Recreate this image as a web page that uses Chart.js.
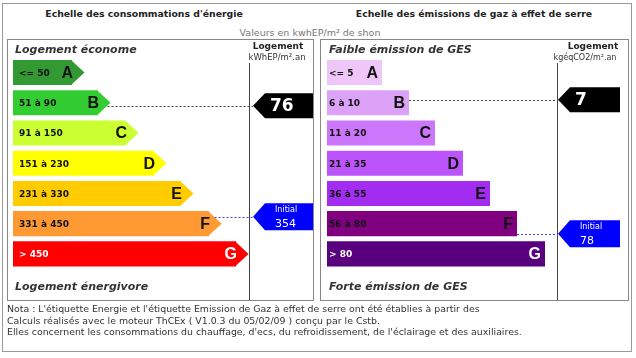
<!DOCTYPE html>
<html>
<head>
<meta charset="utf-8">
<script src="https://cdn.jsdelivr.net/npm/chart.js@4.4.1/dist/chart.umd.min.js"></script>
<style>
  body { margin: 0; background: #fff; width: 636px; height: 358px; overflow: hidden; position: relative; font-family: 'DejaVu Sans', sans-serif; }
  .abs { position: absolute; white-space: nowrap; }
  .centre { width: 300px; text-align: center; }
  .titre { font-weight: bold; font-size: 9.3px; line-height: 12px; color: #222; }
  .entete { font-weight: bold; font-style: italic; font-size: 11px; line-height: 14px; color: #333; }
  .cadre { position: absolute; box-sizing: border-box; border: 1px solid #888; }
  .nota { font-size: 9.4px; line-height: 11.5px; color: #333; left: 7px; }
  canvas { position: absolute; }
</style>
</head>
<body>
<div class="cadre" style="left:2px;top:3px;width:630px;height:349px;border-color:#999"></div>

<div class="abs centre titre" style="left:-6px;top:8px">Echelle des consommations d'énergie</div>
<div class="abs centre titre" style="left:324px;top:8px">Echelle des émissions de gaz à effet de serre</div>
<div class="abs centre" style="left:160px;top:27px;font-size:9.5px;line-height:12px;color:#777">Valeurs en kwhEP/m² de shon</div>

<canvas id="energie" width="306" height="261" style="left:7px;top:39px"></canvas>
<canvas id="ges" width="308" height="261" style="left:320px;top:39px"></canvas>
<div class="cadre" style="left:7px;top:39px;width:307px;height:262px"></div>
<div class="cadre" style="left:320px;top:39px;width:309px;height:262px"></div>

<div class="abs entete" style="left:15px;top:43px">Logement économe</div>
<div class="abs entete" style="left:15px;top:280px">Logement énergivore</div>
<div class="abs entete" style="left:329px;top:43px">Faible émission de GES</div>
<div class="abs entete" style="left:329px;top:280px">Forte émission de GES</div>

<div class="abs centre" style="left:128px;top:41px;font-size:9px;font-weight:bold;line-height:11px;color:#222">Logement</div>
<div class="abs centre" style="left:127px;top:52px;font-size:8.5px;line-height:11px;color:#333">kWhEP/m².an</div>
<div class="abs centre" style="left:443px;top:41px;font-size:9px;font-weight:bold;line-height:11px;color:#222">Logement</div>
<div class="abs centre" style="left:435px;top:52px;font-size:8px;line-height:11px;color:#333">kgéqCO2/m².an</div>

<div class="abs nota" style="top:303px">Nota : L'étiquette Energie et l'étiquette Emission de Gaz à effet de serre ont été établies à partir des</div>
<div class="abs nota" style="top:314.5px">Calculs réalisés avec le moteur ThCEx ( V1.0.3 du 05/02/09 ) conçu par le Cstb.</div>
<div class="abs nota" style="top:326px">Elles concernent les consommations du chauffage, d'ecs, du refroidissement, de l'éclairage et des auxiliaires.</div>

<script>
// Classes et valeurs
var classes = ['A', 'B', 'C', 'D', 'E', 'F', 'G'];

var energiePlages = ['<= 50', '51 à 90', '91 à 150', '151 à 230', '231 à 330', '331 à 450', '> 450'];
var energieSeuils = [50, 90, 150, 230, 330, 450];
var energieBarres = [59, 85, 113, 141, 168, 196, 223];
var energieCouleurs = ['#339933', '#33cc33', '#ccff33', '#ffff00', '#ffcc00', '#ff9933', '#ff0000'];
var energieTextes = ['#111', '#111', '#111', '#111', '#111', '#111', '#fff'];
var energieLogement = 76;
var energieInitial = 354;

var gesPlages = ['<= 5', '6 à 10', '11 à 20', '21 à 35', '36 à 55', '56 à 80', '> 80'];
var gesSeuils = [5, 10, 20, 35, 55, 80];
var gesBarres = [55, 82, 108, 136, 163, 190, 218];
var gesCouleurs = ['#eec6fa', '#dca2f7', '#cc77fb', '#bb55fb', '#a22cf0', '#800080', '#58007e'];
var gesTextes = ['#111', '#111', '#111', '#111', '#111', '#111', '#fff'];
var gesLogement = 7;
var gesInitial = 78;

function classe(v, seuils) {
  for (var i = 0; i < seuils.length; i++) {
    if (v <= seuils[i]) return i;
  }
  return seuils.length;
}

// Fleches, textes des barres et marqueurs
var etiquette = {
  id: 'etiquette',
  afterDatasetsDraw: function (chart, args, opts) {
    var ctx = chart.ctx, area = chart.chartArea;
    var meta = chart.getDatasetMeta(0);
    ctx.save();

    var sx = Math.round(area.right) + 0.5;
    ctx.strokeStyle = '#444';
    ctx.lineWidth = 1;
    ctx.beginPath();
    ctx.moveTo(sx, 24);
    ctx.lineTo(sx, chart.height);
    ctx.stroke();

    meta.data.forEach(function (bar, i) {
      var p = bar.getProps(['x', 'y', 'height'], true);
      var h = p.height;
      if (opts.fleches) {
        ctx.fillStyle = opts.couleurs[i];
        ctx.beginPath();
        ctx.moveTo(p.x - 1, p.y - h / 2);
        ctx.lineTo(p.x + h / 2, p.y);
        ctx.lineTo(p.x - 1, p.y + h / 2);
        ctx.closePath();
        ctx.fill();
      }
      ctx.fillStyle = opts.textes[i];
      ctx.textBaseline = 'middle';
      ctx.textAlign = 'left';
      ctx.font = 'bold 9px "DejaVu Sans"';
      ctx.fillText(opts.plages[i], area.left + opts.decalPlage, p.y + 1);
      ctx.textAlign = 'right';
      ctx.font = 'bold 16px "Liberation Sans"';
      ctx.fillText(chart.data.labels[i], p.x + opts.decalLettre, p.y + 1);
    });

    opts.marqueurs.forEach(function (m) {
      var p = meta.data[m.index].getProps(['x', 'y', 'height'], true);
      var y = p.y + m.dy, h = m.hauteur;
      var x0 = area.right + m.dx, x1 = x0 + m.largeur;
      var xs = p.x;
      if (opts.fleches) xs += Math.max(0, p.height / 2 - Math.abs(y - p.y));
      ctx.strokeStyle = m.trait;
      ctx.setLineDash([2, 2]);
      ctx.beginPath();
      ctx.moveTo(xs, Math.round(y) + 0.5);
      ctx.lineTo(x0, Math.round(y) + 0.5);
      ctx.stroke();
      ctx.setLineDash([]);

      ctx.fillStyle = m.fond;
      ctx.beginPath();
      ctx.moveTo(x0, y);
      ctx.lineTo(x0 + 12, y - h / 2);
      ctx.lineTo(x1, y - h / 2);
      ctx.lineTo(x1, y + h / 2);
      ctx.lineTo(x0 + 12, y + h / 2);
      ctx.closePath();
      ctx.fill();

      ctx.fillStyle = '#fff';
      ctx.textAlign = 'left';
      ctx.textBaseline = 'middle';
      if (m.initial) {
        ctx.font = '8px "DejaVu Sans"';
        ctx.fillText('Initial', x0 + 22, y - 7);
        ctx.font = '11px "DejaVu Sans"';
        ctx.fillText(String(m.valeur), x0 + 22, y + 7);
      } else {
        ctx.font = 'bold 17px "DejaVu Sans"';
        ctx.fillText(String(m.valeur), x0 + 17, y + 1);
      }
    });
    ctx.restore();
  }
};

function etiquetteChart(id, barres, couleurs, textes, plages, seuils, logement, initial, r) {
  return new Chart(document.getElementById(id), {
    type: 'bar',
    data: {
      labels: classes,
      datasets: [{
        data: barres,
        backgroundColor: couleurs,
        borderWidth: 0,
        barPercentage: 0.83,
        categoryPercentage: 1
      }]
    },
    options: {
      indexAxis: 'y',
      responsive: false,
      animation: false,
      devicePixelRatio: 1,
      layout: { padding: { left: r.gauche, right: r.droite, top: 18.4, bottom: 31 } },
      scales: {
        x: { display: false, min: 0, max: r.max },
        y: { display: false }
      },
      plugins: {
        legend: { display: false },
        tooltip: { enabled: false },
        etiquette: {
          fleches: r.fleches,
          couleurs: couleurs,
          textes: textes,
          plages: plages,
          decalPlage: r.decalPlage,
          decalLettre: r.decalLettre,
          marqueurs: [
            { index: classe(logement, seuils), valeur: logement, fond: '#000', trait: '#444', dx: r.dxM, dy: r.dyLog, largeur: r.largeur, hauteur: 25, initial: false },
            { index: classe(initial, seuils), valeur: initial, fond: '#0000ff', trait: '#4444ff', dx: r.dxM, dy: r.dyIni, largeur: r.largeur, hauteur: 27, initial: true }
          ]
        }
      }
    },
    plugins: [etiquette]
  });
}

etiquetteChart('energie', energieBarres, energieCouleurs, energieTextes, energiePlages, energieSeuils, energieLogement, energieInitial,
  { gauche: 6, droite: 64, max: 236, fleches: true, decalPlage: 6, decalLettre: 1, dxM: 4, dyLog: 3, dyIni: -7, largeur: 60 });
etiquetteChart('ges', gesBarres, gesCouleurs, gesTextes, gesPlages, gesSeuils, gesLogement, gesInitial,
  { gauche: 7, droite: 71, max: 230, fleches: false, decalPlage: 2, decalLettre: -4, dxM: 1, dyLog: -3, dyIni: 10, largeur: 62 });
</script>
</body>
</html>
